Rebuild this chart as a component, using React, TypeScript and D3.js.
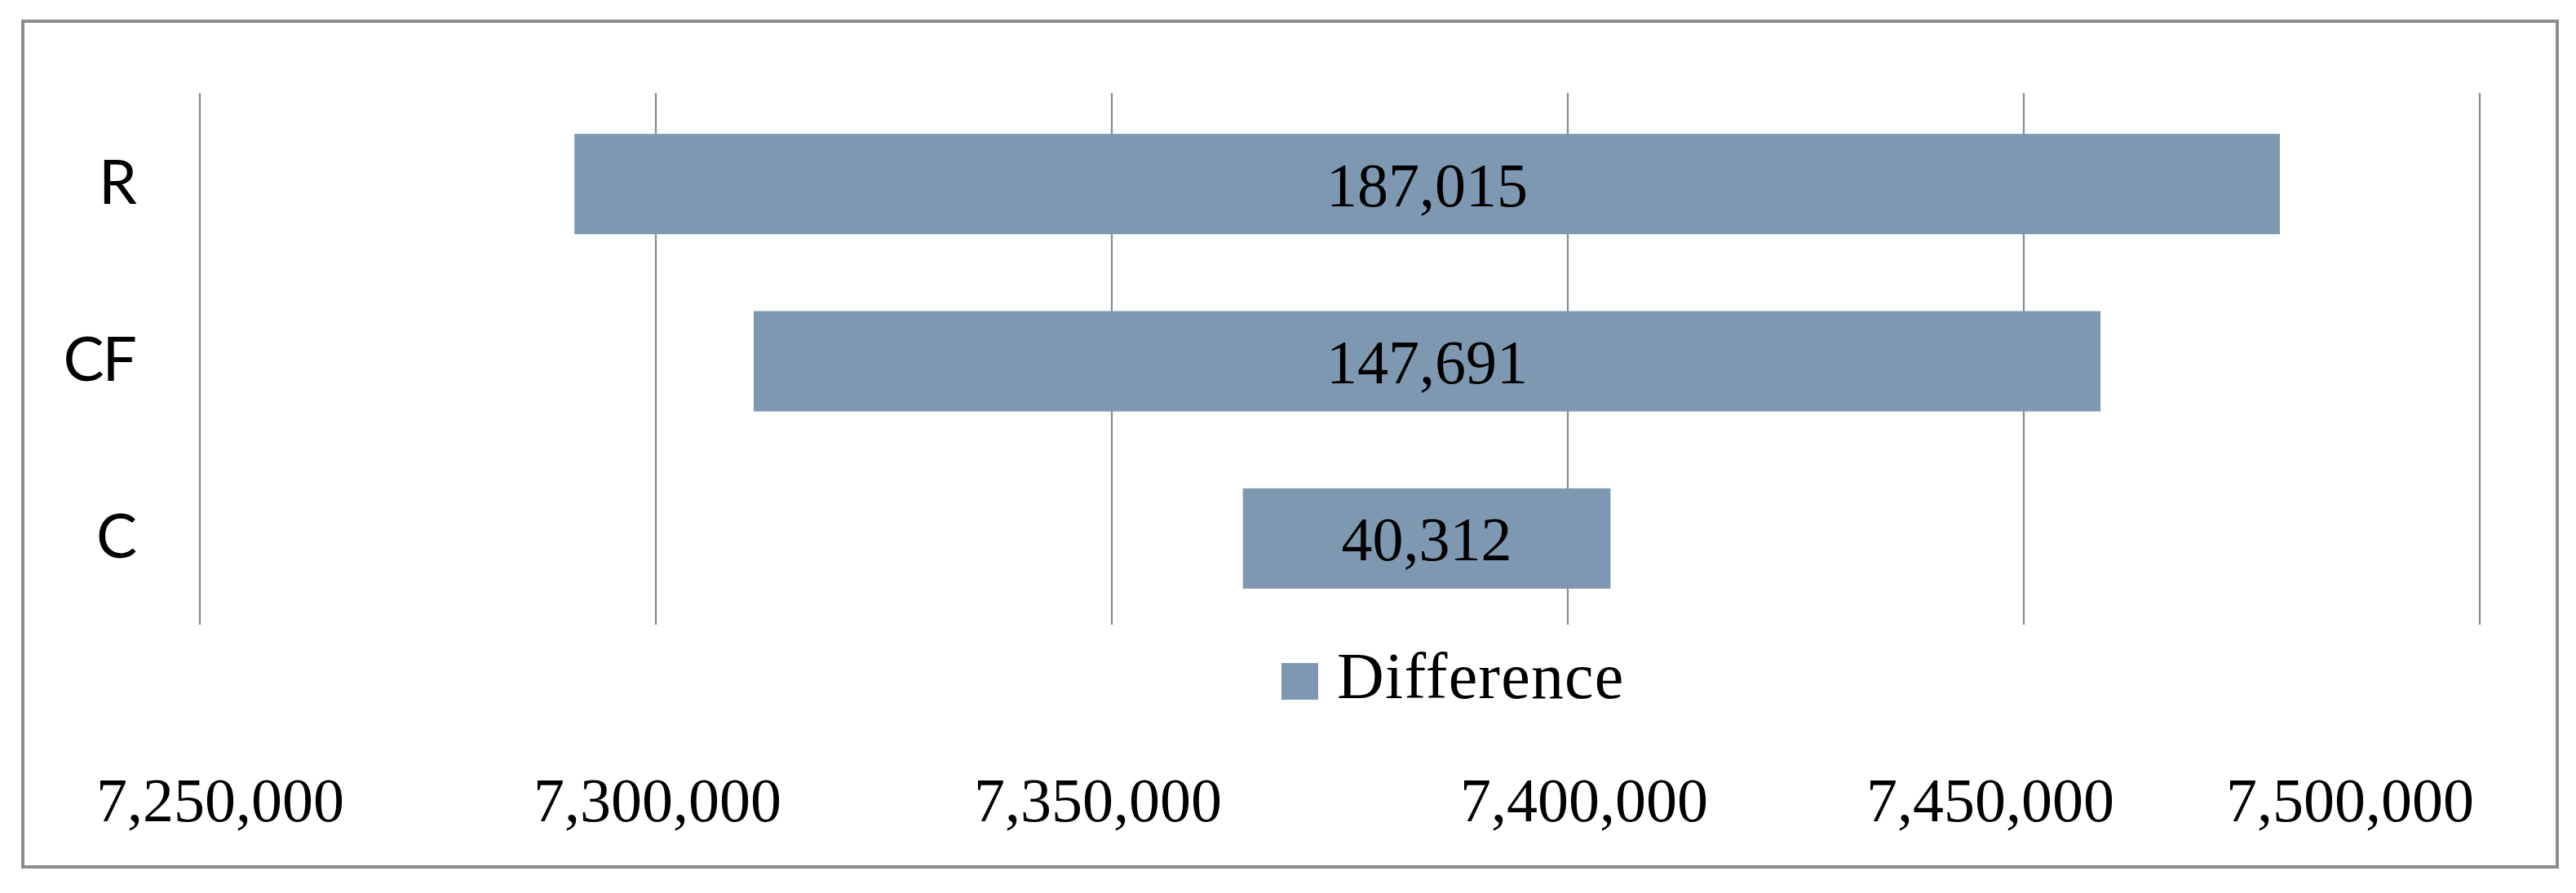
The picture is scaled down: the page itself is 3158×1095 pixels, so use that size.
import React from "react";
import * as d3 from "d3";

const categories = ["R", "CF", "C"];
const baseValues = [7291070, 7310730, 7364370];
const differenceValues = [187015, 147691, 40312];
const tickValues = [7250000, 7300000, 7350000, 7400000, 7450000, 7500000];
const seriesName = "Difference";

// layout tweaks for the axis labels (pixel shifts relative to gridline)
const tickLabelShift = [25, 2, -17, 20, -41, -159];

const W = 3158;
const H = 1095;
const BAR = "#7F98B2";
const GRID = "#8a8a8a";
const SERIF = "'Liberation Serif', 'DejaVu Serif', serif";
const SANS = "Lato, 'Open Sans', sans-serif";

export default function App() {
  const x = d3.scaleLinear().domain([7250000, 7500000]).range([245, 3040]);
  const plotTop = 114;
  const plotBottom = 766;
  const y = d3
    .scaleBand<string>()
    .domain(categories)
    .range([plotTop + 3, plotBottom + 3])
    .paddingInner(0.434)
    .paddingOuter(0.217);
  const fmt = d3.format(",");

  return (
    <svg
      width={W}
      height={H}
      style={{ position: "absolute", left: 0, top: 0, background: "#fff" }}
    >
      <rect x={0} y={0} width={W} height={H} fill="#fff" />
      <rect
        x={28}
        y={26}
        width={3107}
        height={1037}
        fill="#fff"
        stroke="#8c8c8c"
        strokeWidth={4}
      />
      {tickValues.map((t) => (
        <line
          key={"g" + t}
          x1={x(t)}
          x2={x(t)}
          y1={plotTop}
          y2={plotBottom}
          stroke={GRID}
          strokeWidth={2.2}
        />
      ))}
      {categories.map((c, i) => {
        const x0 = x(baseValues[i]);
        const x1 = x(baseValues[i] + differenceValues[i]);
        const yy = y(c)!;
        const bw = y.bandwidth();
        return (
          <g key={c}>
            <rect x={x0} y={yy} width={x1 - x0} height={bw} fill={BAR} />
            <text
              x={(x0 + x1) / 2}
              y={yy + bw / 2 + 27}
              textAnchor="middle"
              fontFamily={SERIF}
              fontSize={76}
              fill="#000"
            >
              {fmt(differenceValues[i])}
            </text>
            <text
              x={166}
              y={yy + bw / 2 + 24}
              textAnchor="end"
              fontFamily={SANS}
              fontSize={75}
              letterSpacing={-2}
              fill="#000"
            >
              {c}
            </text>
          </g>
        );
      })}
      <rect x={1571} y={813} width={45} height={45} fill={BAR} />
      <text x={1639} y={856} fontFamily={SERIF} fontSize={80} letterSpacing={1.2} fill="#000">
        {seriesName}
      </text>
      {tickValues.map((t, i) => (
        <text
          key={"t" + t}
          x={x(t) + tickLabelShift[i]}
          y={1007}
          textAnchor="middle"
          fontFamily={SERIF}
          fontSize={76}
          fill="#000"
        >
          {fmt(t)}
        </text>
      ))}
    </svg>
  );
}
